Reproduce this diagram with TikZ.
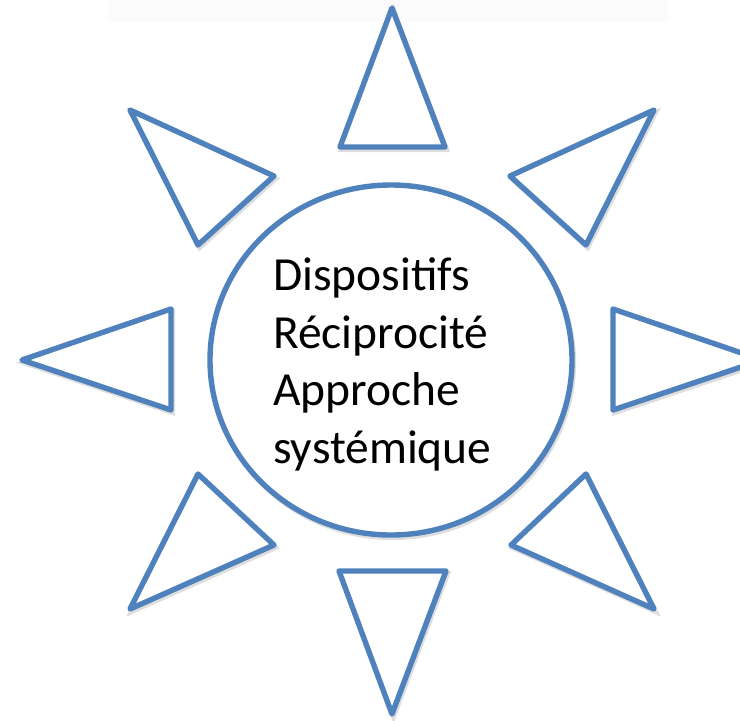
\documentclass[tikz,border=0pt]{standalone}
\usepackage{fontspec}
\setmainfont{Carlito}
\definecolor{sunblue}{HTML}{4F81BD}
\tikzset{
  shade/.style={preaction={draw=black!13, line width=5pt,
    transform canvas={xshift=1.6pt, yshift=-2.6pt}}},
  ray/.style={shade, draw=sunblue, line width=5.4pt, line join=round, fill=white},
  core/.style={shade, draw=sunblue, line width=5.4pt, fill=white},
  label/.style={anchor=base west, inner sep=0pt, font=\fontsize{47.5}{55}\selectfont}
}
\begin{document}
\begin{tikzpicture}[x=1pt, y=-1pt]
\path[use as bounding box, clip] (0,0) rectangle (740,721);
\fill[black!1.5] (108,0) rectangle (668,22);
% rays
\path[ray] (392,8) -- (445,147) -- (340,147) -- cycle;
\path[ray] (392,714) -- (446,571) -- (339,571) -- cycle;
\path[ray] (22,360) -- (171,309) -- (171,410) -- cycle;
\path[ray] (762,360) -- (613,309) -- (613,410) -- cycle;
\path[ray] (130,110) -- (274,176) -- (198,245) -- cycle;
\path[ray] (654,110) -- (510,176) -- (586,245) -- cycle;
\path[ray] (130,609) -- (274,545) -- (198,474) -- cycle;
\path[ray] (654,609) -- (511,545) -- (586,474) -- cycle;
% centre
\path[core] (391,360) ellipse [x radius=181, y radius=175];
\node[label] (l1) at (273,290) {Dispositifs};
\node[label] (l2) at (273,348) {Réciprocité};
\node[label] (l3) at (273,405.5) {Approche};
\node[label] (l4) at (273,463) {systémique};
\end{tikzpicture}
\end{document}
